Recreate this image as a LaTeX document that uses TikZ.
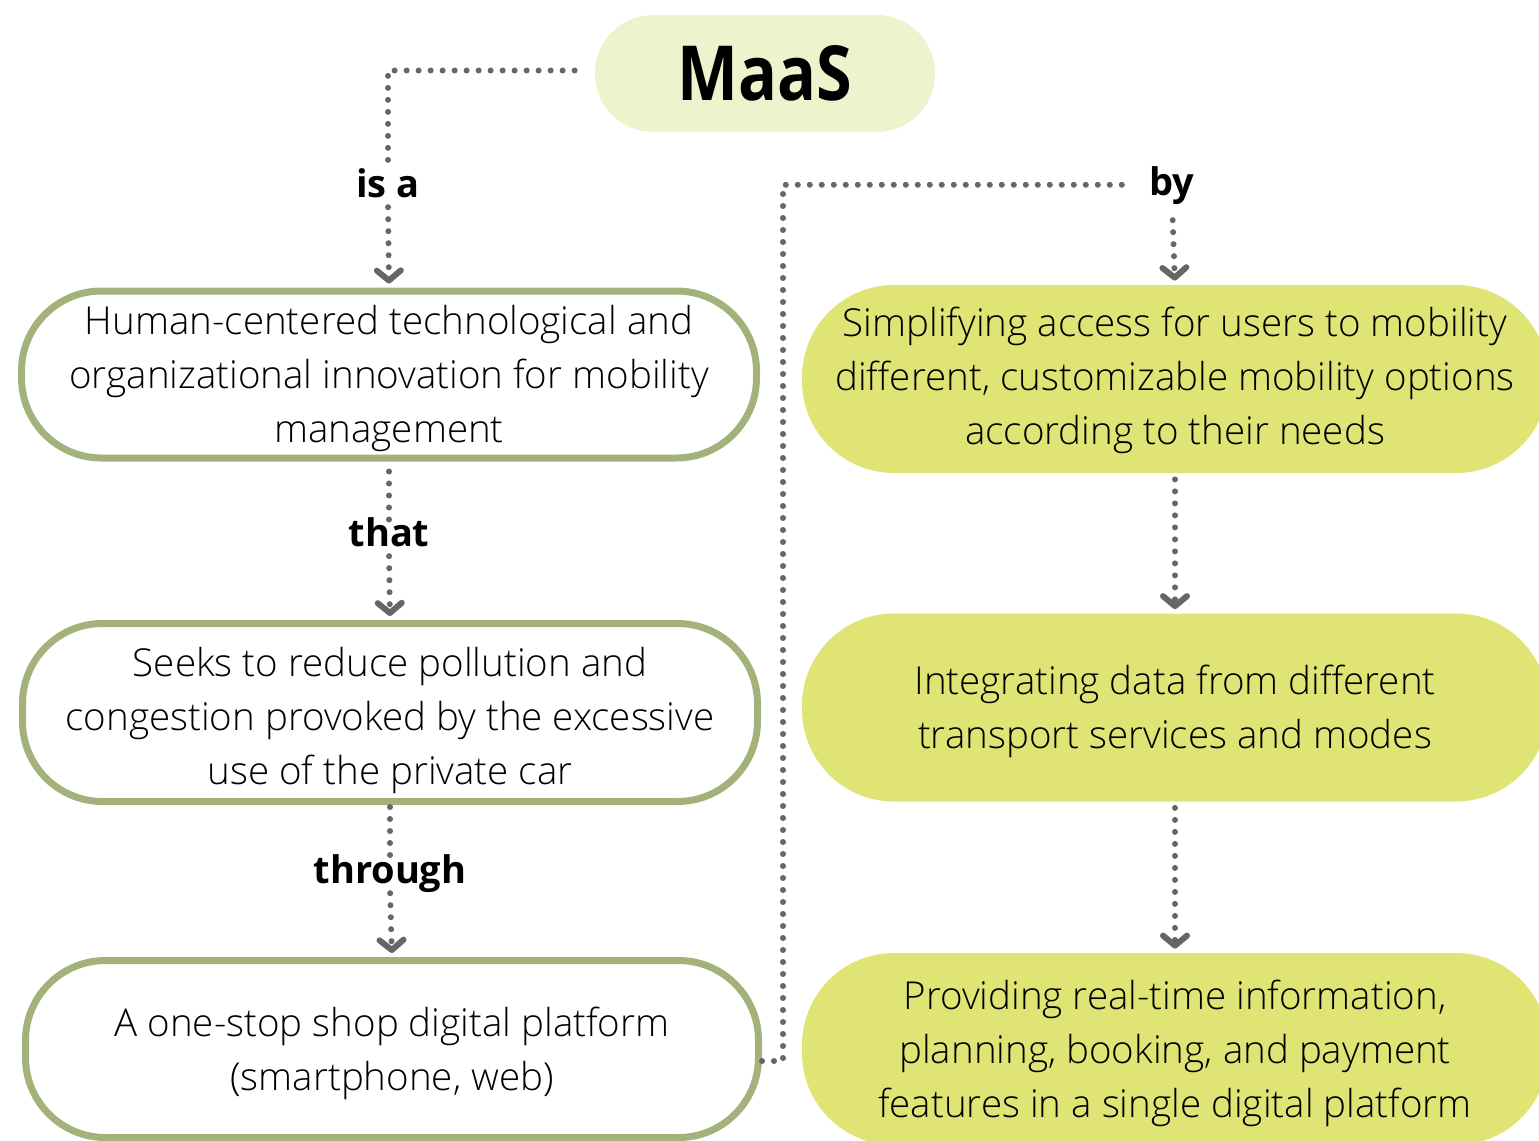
\documentclass[tikz,border=0pt]{standalone}
\usepackage{fontspec}
\IfFontExistsTF{Open Sans Light}{\setmainfont{Open Sans Light}[BoldFont={Open Sans Bold}]}{\setmainfont{Open Sans}}
\usetikzlibrary{arrows.meta,positioning}
\definecolor{maasfill}{HTML}{EDF4CD}
\definecolor{boxline}{HTML}{A2B27A}
\definecolor{byfill}{HTML}{DFE475}
\definecolor{dotgray}{HTML}{666666}
\newcommand\lift[1][19pt]{\rule{0pt}{#1}}
\tikzset{
  top/.style={fill=maasfill,rounded corners=29pt,minimum width=170pt,minimum height=58.5pt,
    font=\fontsize{38}{40}\selectfont\bfseries},
  isbox/.style={draw=boxline,line width=3.5pt,rounded corners=40pt,align=center,inner sep=0pt,
    minimum width=367.5pt},
  bybox/.style={fill=byfill,rounded corners=46pt,align=center,inner sep=0pt,
    minimum width=373pt,minimum height=94pt},
  lbl/.style={font=\fontsize{19}{22}\selectfont\bfseries,inner sep=0pt,anchor=base,
    text height=0.76em,text depth=0.24em},
  dots/.style={dotgray,line width=3pt,line cap=round,dash pattern=on 0pt off 6pt},
  conn/.style={dots,-{Straight Barb[length=5pt,width=12pt,line width=3pt,round]},
    shorten <=2.5pt,shorten >=2pt}
}
\begin{document}
\begin{tikzpicture}[x=0.5pt,y=-0.5pt,font=\fontsize{19.25}{27}\selectfont]
\useasboundingbox (0,0) rectangle (1539,1141);
\node[top] (maas) at (765,73.5) {\scalebox{0.85}[1]{MaaS}};
\node[isbox,minimum height=83.5pt] (human) at (389,374.5)
  {\lift Human-centered technological and\\organizational innovation for mobility\\management};
\node[isbox,minimum height=89pt] (seeks) at (390,712.5)
  {\lift[23pt]Seeks to reduce pollution and\\congestion provoked by the excessive\\use of the private car};
\node[isbox,minimum height=88.5pt,minimum width=366.5pt] (platform) at (392,1049)
  {\lift A one-stop shop digital platform\\(smartphone, web)};
\node[bybox] (simplify) at (1175,379)
  {\lift[16.5pt]Simplifying access for users to mobility\\different, customizable mobility options\\according to their needs};
\node[bybox] (integrate) at (1175,707.5)
  {\lift Integrating data from different\\transport services and modes};
\node[bybox,minimum height=96pt] (provide) at (1175,1049)
  {\lift Providing real-time information,\\planning, booking, and payment\\features in a single digital platform};
\node[lbl] (isa) at (388,197) {is a};
\node[lbl] (that) at (389,546) {that};
\node[lbl] (through) at (390,883) {through};
\node[lbl] (by) at (1172,195) {by};
\coordinate (turn) at (783,600);

\draw[dots,shorten <=10pt,shorten >=5pt] ([yshift=1.5pt]maas.west) -| (isa.north);
\draw[conn] (isa.south) -- (human.north);
\draw[dots,shorten <=5pt,shorten >=5pt] (human.south) -- (that.north);
\draw[conn] (that.south) -- (seeks.north);
\draw[dots,shorten <=1pt,shorten >=2.5pt] (seeks.south) -- (through.north);
\draw[conn] (through.south) -- (platform.north);
\draw[dots,shorten >=12pt] ([yshift=-6pt]platform.east) -| (turn) |- ([yshift=2.5pt]by.west);
\draw[conn,shorten <=10pt] (by.south) -- (simplify.north);
\draw[conn,shorten <=3pt] (simplify.south) -- (integrate.north);
\draw[conn,shorten <=3pt] (integrate.south) -- (provide.north);
\end{tikzpicture}
\end{document}
